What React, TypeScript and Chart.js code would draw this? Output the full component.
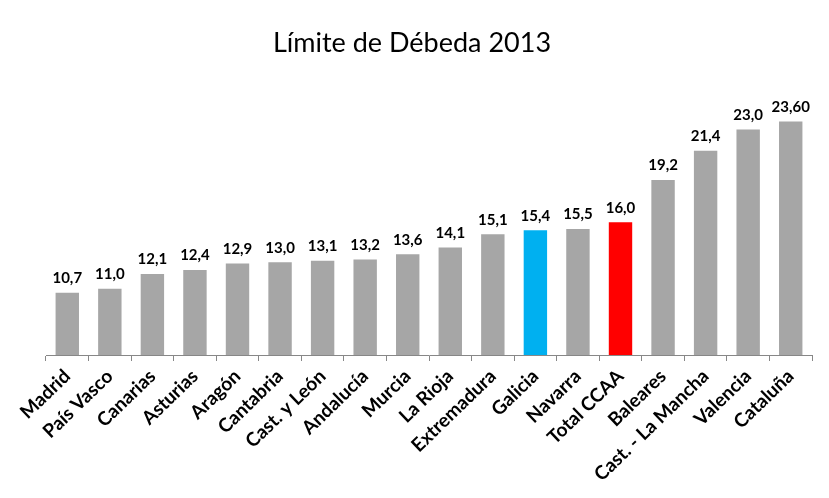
import React, { useEffect, useRef } from "react";
import { Chart, registerables } from "chart.js";

Chart.register(...registerables);

const titleText = "Límite de Débeda 2013";
const categories = [
  "Madrid", "País Vasco", "Canarias", "Asturias", "Aragón", "Cantabria",
  "Cast. y León", "Andalucía", "Murcia", "La Rioja", "Extremadura", "Galicia",
  "Navarra", "Total CCAA", "Baleares", "Cast. - La Mancha", "Valencia", "Cataluña",
];
const values = [10.7, 11.0, 12.1, 12.4, 12.9, 13.0, 13.1, 13.2, 13.6, 14.1, 15.1, 15.4, 15.5, 16.0, 19.2, 21.4, 23.0, 23.6];
const valueLabels = ["10,7", "11,0", "12,1", "12,4", "12,9", "13,0", "13,1", "13,2", "13,6", "14,1", "15,1", "15,4", "15,5", "16,0", "19,2", "21,4", "23,0", "23,60"];
const barColors = categories.map((c) =>
  c === "Galicia" ? "#00B0F0" : c === "Total CCAA" ? "#FF0000" : "#A6A6A6"
);

const labelPlugin = {
  id: "valueLabels",
  afterDatasetsDraw(chart: any) {
    const ctx = chart.ctx;
    const meta = chart.getDatasetMeta(0);
    ctx.save();
    ctx.font = "bold 15px Lato";
    ctx.fillStyle = "#000";
    ctx.textAlign = "center";
    ctx.textBaseline = "bottom";
    meta.data.forEach((bar: any, i: number) => {
      ctx.fillText(valueLabels[i], bar.x, bar.y - 7);
    });
    // title
    ctx.font = "27px Lato";
    ctx.textBaseline = "middle";
    ctx.fillText(titleText, 412, 43);
    ctx.restore();
  },
};

export default function App() {
  const ref = useRef<HTMLCanvasElement>(null);
  useEffect(() => {
    if (!ref.current) return;
    const chart = new Chart(ref.current, {
      type: "bar",
      data: {
        labels: categories,
        datasets: [
          {
            data: values,
            backgroundColor: barColors,
            barPercentage: 0.55,
            categoryPercentage: 1,
          },
        ],
      },
      plugins: [labelPlugin],
      options: {
        animation: false,
        responsive: false,
        maintainAspectRatio: false,
        layout: { padding: { left: 46, right: 17, top: 103, bottom: 0 } },
        plugins: {
          legend: { display: false },
          tooltip: { enabled: false },
          title: { display: false },
        },
        scales: {
          x: {
            afterFit: (scale: any) => {
              scale.height = 143;
            },
            border: { display: true, color: "#878787", width: 1 },
            grid: {
              offset: true,
              drawOnChartArea: false,
              drawTicks: true,
              tickLength: 6,
              color: "#878787",
            },
            ticks: {
              autoSkip: false,
              maxRotation: 44,
              minRotation: 44,
              color: "#000",
              padding: 4,
              font: { family: "Lato", size: 19, weight: "bold" },
            },
          },
          y: {
            display: false,
            min: 6,
            max: 25,
          },
        },
      },
    });
    return () => chart.destroy();
  }, []);
  return (
    <div style={{ position: "fixed", left: 0, top: 0, width: 829, height: 498, background: "#fff" }}>
      <canvas ref={ref} width={829} height={498} />
    </div>
  );
}
